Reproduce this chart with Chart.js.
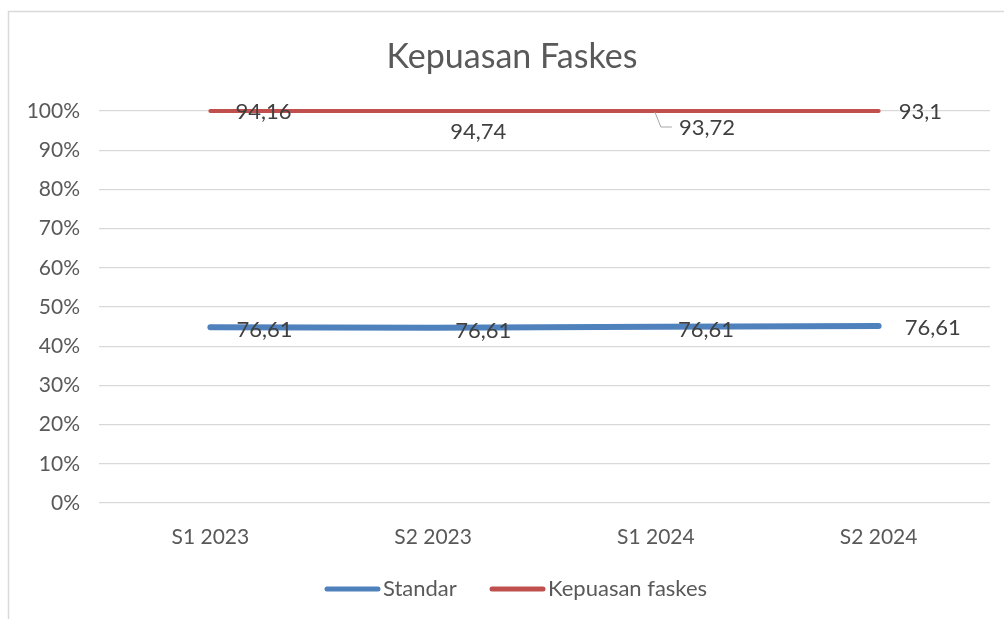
<!DOCTYPE html>
<html>
<head>
<meta charset="utf-8">
<script src="https://cdn.jsdelivr.net/npm/chart.js@4.4.1/dist/chart.umd.min.js"></script>
<style>
html,body{margin:0;padding:0;background:#fff;}
#wrap{width:1004px;height:619px;position:relative;}
</style>
</head>
<body>
<div id="wrap"><canvas id="c" width="1004" height="619"></canvas></div>
<script>
const categories = ['S1 2023', 'S2 2023', 'S1 2024', 'S2 2024'];
const standar = [76.61, 76.61, 76.61, 76.61];
const kepuasan = [94.16, 94.74, 93.72, 93.1];
const seriesNames = ['Standar', 'Kepuasan faskes'];
const yTicks = [0, 0.1, 0.2, 0.3, 0.4, 0.5, 0.6, 0.7, 0.8, 0.9, 1];

// 100% stacked line: each series is shown as its share of the category total
const totals = categories.map((_, i) => standar[i] + kepuasan[i]);
const standarShare = standar.map((v, i) => v / totals[i]);
const kepuasanShare = kepuasan.map((v, i) => v / totals[i]);

const FONT = 'Lato, "Liberation Sans", sans-serif';
const BLUE = '#4f81bd';
const RED = '#c0504d';

// label offsets (style only)
const labelOffsets = [
  [[26, 3], [22, 3], [22, 3], [26, 2]],
  [[25, 1], [17, 21], [23, 17], [20, 1]]
];

const decor = {
  id: 'decor',
  beforeDraw(chart) {
    const ctx = chart.ctx;
    ctx.save();
    ctx.fillStyle = '#fff';
    ctx.fillRect(0, 0, chart.width, chart.height);
    ctx.strokeStyle = '#d9d9d9';
    ctx.lineWidth = 1.5;
    ctx.beginPath();
    ctx.moveTo(8.5, 619);
    ctx.lineTo(8.5, 11.5);
    ctx.lineTo(1004, 11.5);
    ctx.stroke();
    // title
    ctx.fillStyle = '#595959';
    ctx.font = '34px ' + FONT;
    ctx.textAlign = 'center';
    ctx.textBaseline = 'middle';
    ctx.fillText('Kepuasan Faskes', 512, 57);
    ctx.restore();
  },
  afterDatasetsDraw(chart) {
    const ctx = chart.ctx;
    ctx.save();
    ctx.font = '22px ' + FONT;
    ctx.fillStyle = '#404040';
    ctx.textAlign = 'left';
    ctx.textBaseline = 'middle';
    const raw = [standar, kepuasan];
    chart.data.datasets.forEach((ds, di) => {
      const meta = chart.getDatasetMeta(di);
      meta.data.forEach((pt, i) => {
        const [dx, dy] = labelOffsets[di][i];
        const txt = String(raw[di][i]).replace('.', ',');
        if (di === 1 && i === 2) {
          ctx.strokeStyle = '#a6a6a6';
          ctx.lineWidth = 1;
          ctx.beginPath();
          ctx.moveTo(pt.x - 1, pt.y + 1);
          ctx.lineTo(pt.x + 5, pt.y + dy - 1);
          ctx.lineTo(pt.x + dx - 7, pt.y + dy - 1);
          ctx.stroke();
        }
        ctx.fillText(txt, pt.x + dx, pt.y + dy);
      });
    });
    // legend
    const items = [
      {name: seriesNames[0], color: BLUE, x0: 325},
      {name: seriesNames[1], color: RED, x0: 490}
    ];
    ctx.font = '22px ' + FONT;
    items.forEach(it => {
      ctx.strokeStyle = it.color;
      ctx.lineWidth = 5;
      ctx.lineCap = 'round';
      ctx.beginPath();
      ctx.moveTo(it.x0 + 2, 589);
      ctx.lineTo(it.x0 + 53, 589);
      ctx.stroke();
      ctx.fillStyle = '#595959';
      ctx.fillText(it.name, it.x0 + 58, 589);
    });
    ctx.restore();
  }
};

new Chart(document.getElementById('c'), {
  type: 'line',
  data: {
    labels: categories,
    datasets: [
      {
        label: seriesNames[0],
        data: standarShare,
        borderColor: BLUE,
        backgroundColor: BLUE,
        borderWidth: 6,
        borderCapStyle: 'round',
        pointRadius: 0,
        fill: false,
        tension: 0,
        clip: false
      },
      {
        label: seriesNames[1],
        data: kepuasanShare,
        borderColor: RED,
        backgroundColor: RED,
        borderWidth: 4,
        borderCapStyle: 'round',
        pointRadius: 0,
        fill: false,
        tension: 0,
        clip: false
      }
    ]
  },
  options: {
    responsive: false,
    animation: false,
    devicePixelRatio: 1,
    layout: {padding: {left: 0, right: 14, top: 111, bottom: 0}},
    plugins: {
      legend: {display: false},
      title: {display: false},
      tooltip: {enabled: false}
    },
    scales: {
      x: {
        offset: true,
        grid: {display: false, drawTicks: false},
        border: {display: false},
        ticks: {
          color: '#595959',
          font: {family: FONT, size: 21},
          padding: 22,
          maxRotation: 0
        },
        afterFit(scale) { scale.height = 116; }
      },
      y: {
        stacked: true,
        min: 0,
        max: 1,
        afterBuildTicks(scale) { scale.ticks = yTicks.map(v => ({value: v})); },
        grid: {color: '#d9d9d9', lineWidth: 1.3, drawTicks: false},
        border: {display: false},
        ticks: {
          color: '#595959',
          font: {family: FONT, size: 21},
          padding: 19,
          callback: v => Math.round(v * 100) + '%'
        },
        afterFit(scale) { scale.width = 99; }
      }
    }
  },
  plugins: [decor]
});
</script>
</body>
</html>
